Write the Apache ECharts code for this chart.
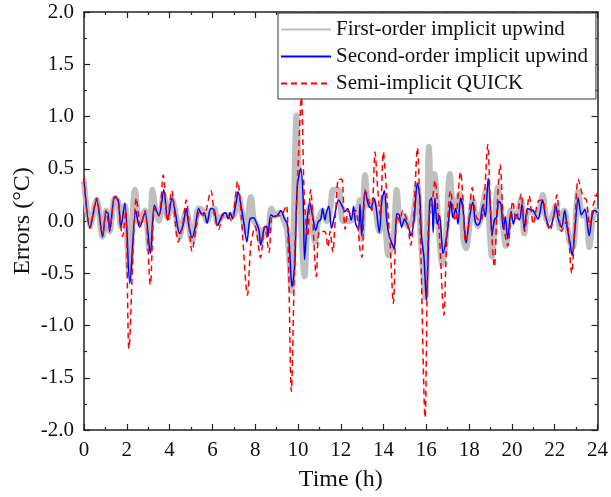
<!DOCTYPE html>
<html>
<head>
<meta charset="utf-8">
<script src="https://cdn.jsdelivr.net/npm/echarts@6/dist/echarts.min.js"></script>
<style>
  html, body { margin: 0; padding: 0; background: #fff; }
  #Chart { width: 611px; height: 497px; }
</style>
</head>
<body>
<div id="Chart"></div>
<script>
// [time (h), error (°C)]
var firstOrder = [
  [0.0, 0.38], [0.28, -0.05], [0.59, 0.2], [0.87, -0.15], [1.03, 0.1], [1.2, -0.1], [1.44, 0.22], [1.6, 0.18],
  [1.72, -0.05], [1.91, 0.15], [2.12, -0.52], [2.38, 0.3], [2.6, -0.02], [2.85, 0.1], [3.05, -0.28], [3.2, 0.3],
  [3.35, 0.1], [3.5, 0.0], [3.73, 0.25], [3.91, 0.03], [4.12, 0.2], [4.3, 0.05], [4.47, -0.15], [4.63, 0.0],
  [4.78, 0.1], [5.05, -0.2], [5.2, -0.03], [5.36, 0.12], [5.55, 0.1], [5.75, 0.0], [5.93, 0.1], [6.1, 0.12],
  [6.24, -0.02], [6.47, 0.05], [6.62, 0.05], [6.83, 0.06], [7.0, 0.05], [7.2, 0.25], [7.4, 0.05], [7.55, -0.1],
  [7.8, 0.23], [7.95, 0.0], [8.1, -0.05], [8.26, -0.2], [8.42, -0.08], [8.6, -0.1], [8.75, 0.12], [8.95, 0.05],
  [9.15, 0.08], [9.35, 0.0], [9.5, -0.1], [9.7, -0.67], [9.93, 1.01], [10.05, 0.4], [10.31, -0.53], [10.45, 0.0],
  [10.55, 0.15], [10.8, -0.2], [10.95, 0.0], [11.15, 0.1], [11.35, 0.0], [11.5, 0.1], [11.65, 0.3], [11.9, 0.3],
  [12.1, 0.0], [12.4, 0.0], [12.7, 0.05], [12.9, 0.2], [12.98, -0.17], [13.14, 0.44], [13.3, 0.15], [13.5, 0.2],
  [13.8, -0.1], [14.0, 0.2], [14.23, -0.33], [14.45, -0.2], [14.62, 0.3], [14.78, 0.0], [14.95, 0.05], [15.15, -0.05],
  [15.35, 0.0], [15.58, 0.35], [15.75, -0.2], [15.96, -0.73], [16.12, 0.71], [16.25, 0.1], [16.38, 0.45], [16.55, 0.0],
  [16.75, -0.42], [16.9, -0.2], [17.1, 0.45], [17.3, 0.05], [17.55, 0.26], [17.75, -0.2], [17.86, -0.26], [18.17, 0.2],
  [18.4, -0.05], [18.6, 0.1], [18.79, 0.3], [19.07, -0.34], [19.34, 0.32], [19.55, 0.0], [19.72, -0.24], [19.95, 0.1],
  [20.2, 0.05], [20.42, 0.2], [20.58, -0.12], [20.75, 0.1], [21.0, 0.08], [21.2, 0.03], [21.44, 0.25], [21.65, 0.0],
  [21.9, 0.05], [22.06, 0.15], [22.25, -0.07], [22.45, 0.1], [22.7, -0.2], [22.85, -0.25], [23.1, 0.28], [23.3, 0.05],
  [23.45, 0.1], [23.62, -0.25], [23.8, 0.05], [24.0, 0.12]
];

var secondOrder = [
  [0.0, 0.4], [0.28, -0.06], [0.59, 0.2], [0.87, -0.15], [1.03, 0.08], [1.12, 0.08], [1.2, -0.1], [1.44, 0.23],
  [1.6, 0.2], [1.72, -0.06], [1.91, 0.17], [2.14, -0.6], [2.42, 0.1], [2.6, -0.06], [2.85, 0.08], [3.1, -0.31],
  [3.29, 0.15], [3.5, 0.05], [3.73, 0.3], [3.91, 0.01], [4.12, 0.22], [4.27, 0.08], [4.47, -0.12], [4.63, -0.04],
  [4.78, 0.12], [4.89, -0.03], [5.05, -0.16], [5.2, -0.06], [5.36, 0.12], [5.51, 0.06], [5.62, 0.08], [5.75, -0.02],
  [5.93, 0.12], [6.08, 0.11], [6.24, -0.04], [6.47, 0.06], [6.62, 0.08], [6.73, 0.02], [6.83, 0.08], [6.94, 0.02],
  [7.1, 0.17], [7.2, 0.28], [7.36, 0.12], [7.48, -0.03], [7.61, -0.2], [7.76, 0.02], [7.92, 0.03], [8.08, -0.03],
  [8.18, -0.09], [8.26, -0.23], [8.42, -0.07], [8.54, -0.05], [8.6, -0.15], [8.73, 0.06], [8.9, 0.04], [9.06, 0.06],
  [9.2, 0.1], [9.35, 0.03], [9.5, -0.03], [9.61, -0.28], [9.72, -0.63], [9.85, -0.42], [9.97, 0.33], [10.13, 0.5],
  [10.24, 0.23], [10.31, -0.37], [10.44, 0.03], [10.55, 0.17], [10.7, 0.03], [10.83, -0.09], [10.94, -0.01], [11.07, 0.02],
  [11.15, 0.12], [11.26, 0.01], [11.33, 0.08], [11.44, 0.14], [11.57, -0.07], [11.72, 0.06], [11.9, 0.2], [12.05, 0.15],
  [12.2, 0.09], [12.32, 0.12], [12.49, 0.01], [12.6, 0.14], [12.7, -0.03], [12.83, -0.08], [12.9, 0.16], [12.98, -0.14],
  [13.14, 0.29], [13.3, 0.15], [13.42, 0.12], [13.53, 0.22], [13.64, 0.15], [13.8, -0.11], [13.92, 0.19], [14.04, 0.29],
  [14.15, 0.01], [14.26, -0.14], [14.38, -0.21], [14.5, -0.27], [14.62, 0.07], [14.73, 0.06], [14.85, -0.06], [14.98, 0.02],
  [15.1, -0.03], [15.2, -0.08], [15.27, -0.14], [15.42, 0.0], [15.58, 0.36], [15.69, 0.24], [15.77, -0.14], [15.89, -0.35],
  [16.0, -0.76], [16.16, 0.19], [16.25, 0.22], [16.32, -0.11], [16.4, 0.22], [16.51, -0.03], [16.62, 0.05], [16.78, -0.31],
  [16.9, -0.21], [17.03, -0.03], [17.14, 0.19], [17.25, 0.03], [17.37, 0.12], [17.48, -0.03], [17.6, 0.22], [17.71, 0.12],
  [17.86, -0.21], [18.01, 0.02], [18.17, 0.18], [18.29, -0.01], [18.4, -0.04], [18.51, -0.01], [18.64, 0.15], [18.76, 0.04],
  [18.89, 0.41], [18.98, 0.2], [19.07, -0.14], [19.18, 0.01], [19.29, 0.04], [19.38, 0.19], [19.49, 0.16], [19.6, -0.08],
  [19.69, 0.04], [19.8, -0.17], [19.96, 0.09], [20.07, -0.03], [20.19, 0.06], [20.35, 0.01], [20.47, 0.16], [20.58, -0.08],
  [20.73, 0.12], [20.84, 0.11], [20.99, 0.1], [21.22, 0.02], [21.43, 0.2], [21.58, 0.04], [21.77, -0.06], [21.93, 0.02],
  [22.05, 0.15], [22.16, 0.02], [22.32, -0.06], [22.47, 0.1], [22.58, -0.06], [22.7, -0.19], [22.82, -0.33], [22.94, -0.09],
  [23.1, 0.22], [23.25, 0.06], [23.41, 0.11], [23.61, -0.14], [23.75, 0.05], [23.87, 0.1], [24.0, 0.08]
];

var quick = [
  [0.0, 0.42], [0.28, -0.07], [0.59, 0.22], [0.87, -0.13], [1.03, 0.1], [1.2, -0.08], [1.44, 0.25], [1.6, 0.18],
  [1.8, -0.15], [1.95, 0.1], [2.1, -1.22], [2.45, 0.22], [2.65, -0.05], [2.85, 0.1], [3.1, -0.61], [3.3, 0.12],
  [3.5, 0.05], [3.7, 0.44], [3.9, 0.0], [4.1, 0.29], [4.4, -0.2], [4.6, -0.05], [4.78, 0.2], [5.05, -0.29],
  [5.25, -0.05], [5.4, 0.1], [5.6, 0.05], [5.93, 0.29], [6.1, 0.05], [6.3, -0.08], [6.5, 0.05], [6.7, 0.05],
  [6.9, 0.0], [7.18, 0.38], [7.35, 0.05], [7.64, -0.71], [7.8, -0.22], [8.0, -0.05], [8.25, -0.35], [8.45, -0.05],
  [8.65, -0.3], [8.8, 0.05], [9.0, 0.05], [9.2, 0.05], [9.45, 0.15], [9.55, -0.3], [9.69, -1.63], [9.85, -0.3],
  [10.0, 0.5], [10.16, 1.18], [10.3, 0.2], [10.45, -0.15], [10.59, 0.3], [10.86, -0.53], [11.0, -0.1], [11.25, -0.1],
  [11.4, -0.25], [11.5, -0.1], [11.63, -0.3], [11.75, 0.05], [11.9, 0.4], [12.05, 0.4], [12.2, -0.08], [12.35, 0.1],
  [12.52, 0.05], [12.7, 0.1], [12.9, -0.27], [12.99, -0.35], [13.14, 0.3], [13.3, 0.2], [13.45, 0.1], [13.6, 0.66],
  [13.73, 0.3], [13.85, 0.05], [13.99, 0.66], [14.15, 0.25], [14.3, -0.2], [14.46, -0.79], [14.62, 0.05], [14.75, 0.0],
  [14.9, 0.1], [15.1, 0.0], [15.27, -0.23], [15.42, 0.1], [15.58, 0.7], [15.72, -0.1], [15.94, -1.88], [16.1, 0.0],
  [16.28, 0.19], [16.4, 0.39], [16.6, -0.1], [16.82, -0.9], [16.95, -0.2], [17.13, 0.29], [17.35, 0.0], [17.6, 0.47],
  [17.71, 0.2], [17.83, -0.2], [17.95, -0.1], [18.14, 0.32], [18.33, 0.04], [18.55, 0.0], [18.7, 0.2], [18.87, 0.73],
  [19.0, 0.1], [19.18, -0.44], [19.3, 0.1], [19.45, 0.54], [19.6, 0.0], [19.8, -0.24], [20.04, 0.19], [20.2, 0.0],
  [20.43, 0.26], [20.6, -0.1], [20.81, 0.24], [21.0, -0.03], [21.23, 0.19], [21.44, 0.2], [21.6, 0.0], [21.78, -0.09],
  [21.95, 0.05], [22.1, 0.25], [22.32, -0.1], [22.55, 0.0], [22.79, -0.5], [22.95, 0.0], [23.1, 0.4], [23.33, 0.23],
  [23.48, 0.2], [23.64, -0.05], [23.8, 0.15], [24.0, 0.27]
];

var seriesNames = ['First-order implicit upwind', 'Second-order implicit upwind', 'Semi-implicit QUICK'];

var FONT = 'Liberation Serif';

function frameAxis(pos, isX, showLabel) {
  var ax = {
    type: 'value',
    position: pos,
    min: isX ? 0 : -2,
    max: isX ? 24 : 2,
    interval: isX ? 2 : 0.5,
    axisLine: { show: true, onZero: false, lineStyle: { color: '#222', width: 1.5 } },
    axisTick: { show: true, inside: true, length: 6, lineStyle: { color: '#222', width: 1.2 } },
    minorTick: { show: true, splitNumber: 2, length: 3, lineStyle: { color: '#222', width: 1.2 } },
    splitLine: { show: false },
    axisLabel: {
      show: showLabel,
      color: '#111',
      fontFamily: FONT,
      fontSize: 21,
      margin: 10,
      formatter: isX ? '{value}' : function (v) { return v.toFixed(1); }
    }
  };
  return ax;
}

var myChart = echarts.init(document.getElementById('Chart'));

var xBottom = frameAxis('bottom', true, true);
xBottom.name = 'Time (h)';
xBottom.nameLocation = 'middle';
xBottom.nameGap = 38;
xBottom.nameTextStyle = { fontFamily: FONT, fontSize: 24, color: '#111' };

var yLeft = frameAxis('left', false, true);
yLeft.name = 'Errors (°C)';
yLeft.nameLocation = 'middle';
yLeft.nameGap = 49;
yLeft.nameMoveOverlap = false;
yLeft.nameTextStyle = { fontFamily: FONT, fontSize: 24, color: '#111' };

var option = {
  animation: false,
  backgroundColor: '#fff',
  grid: { left: 84, right: 12, top: 12, bottom: 67 },
  legend: {
    orient: 'vertical',
    left: 278,
    top: 13,
    itemWidth: 50,
    itemHeight: 14,
    itemGap: 6,
    padding: [6, 8, 5, 2],
    backgroundColor: '#fff',
    borderColor: '#333',
    borderWidth: 1,
    itemStyle: { opacity: 0 },
    textStyle: { fontFamily: FONT, fontSize: 21, color: '#111' },
    data: seriesNames
  },
  xAxis: [xBottom, frameAxis('top', true, false)],
  yAxis: [yLeft, frameAxis('right', false, false)],
  series: [{
    name: seriesNames[0],
    type: 'line',
    data: firstOrder,
    symbol: 'none',
    smooth: 0.3,
    lineStyle: { color: '#bfbfbf', width: 6 },
    itemStyle: { color: '#bfbfbf' }
  }, {
    name: seriesNames[1],
    type: 'line',
    data: secondOrder,
    symbol: 'none',
    smooth: 0.3,
    lineStyle: { color: '#0000ff', width: 1.5 },
    itemStyle: { color: '#0000ff' }
  }, {
    name: seriesNames[2],
    type: 'line',
    data: quick,
    symbol: 'none',
    smooth: 0.3,
    lineStyle: { color: '#ff0000', width: 1.5, type: [6, 4] },
    itemStyle: { color: '#ff0000' }
  }]
};
myChart.setOption(option);
</script>
</body>
</html>
